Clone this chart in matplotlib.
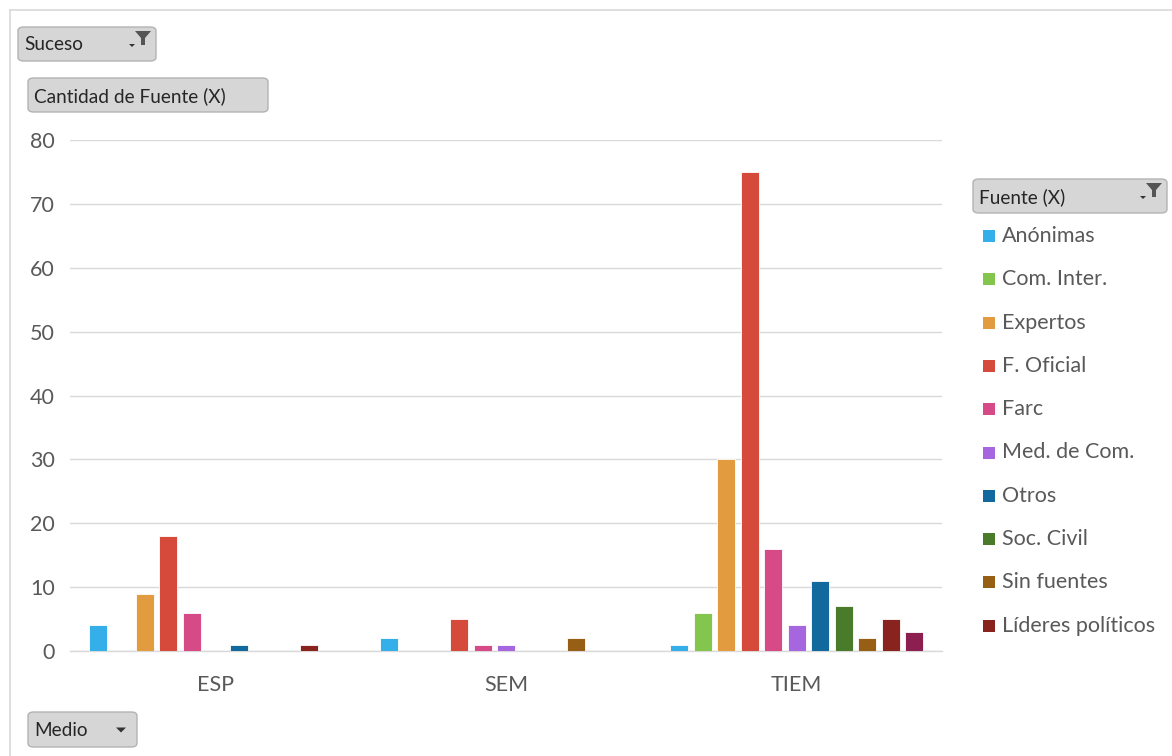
import numpy as np
import matplotlib
matplotlib.use("Agg")
import matplotlib.pyplot as plt
from matplotlib.patches import FancyBboxPatch, Rectangle, Polygon

# ================================
# Data
# ================================

MEDIOS = ["ESP", "SEM", "TIEM"]

FUENTES = [
    "Anónimas",
    "Com. Inter.",
    "Expertos",
    "F. Oficial",
    "Farc",
    "Med. de Com.",
    "Otros",
    "Soc. Civil",
    "Sin fuentes",
    "Líderes políticos",
    "(sin nombre)",  # 11th series, cut off from the legend
]

ANONIMAS = [4, 2, 1]
COM_INTER = [0, 0, 6]
EXPERTOS = [9, 0, 30]
F_OFICIAL = [18, 5, 75]
FARC = [6, 1, 16]
MED_COM = [0, 1, 4]
OTROS = [1, 0, 11]
SOC_CIVIL = [0, 0, 7]
SIN_FUENTES = [0, 2, 2]
LIDERES = [1, 0, 5]
EXTRA = [0, 0, 3]

COLORS = [
    "#35AFEA", "#84C54D", "#E29C3F", "#D64A3B", "#D74A88", "#A566E0",
    "#11699D", "#4A7B2A", "#975F16", "#89231D", "#8C1F4F",
]

SERIES = [ANONIMAS, COM_INTER, EXPERTOS, F_OFICIAL, FARC, MED_COM,
          OTROS, SOC_CIVIL, SIN_FUENTES, LIDERES, EXTRA]

W, H = 1172, 756
TXT = "#595959"
FONT = "Lato"

plt.rcParams["font.family"] = [FONT, "DejaVu Sans"]

fig = plt.figure(figsize=(W / 100, H / 100), dpi=100)
fig.patch.set_facecolor("white")

# plot area in pixels: x 70..942, y 140..651
ax = fig.add_axes([70 / W, (H - 651) / H, (942 - 70) / W, (651 - 140) / H])

x = np.arange(len(MEDIOS))
step = 0.0808
width = 0.062
n = len(SERIES)
for i, (vals, col) in enumerate(zip(SERIES, COLORS)):
    off = (i - (n - 1) / 2) * step
    heights = [v if v > 0 else np.nan for v in vals]
    ax.bar(x + off, heights, width=width, color=col, edgecolor="white",
           linewidth=0.6, zorder=3)

ax.set_xlim(-0.5, len(MEDIOS) - 0.5)
ax.set_ylim(0, 80)
ax.set_yticks(range(0, 81, 10))
ax.set_xticks(x)
ax.set_xticklabels(MEDIOS)
ax.yaxis.grid(True, color="#D9D9D9", linewidth=1.0, zorder=0)
for s in ["top", "right", "left"]:
    ax.spines[s].set_visible(False)
ax.spines["bottom"].set_color("#D9D9D9")
ax.spines["bottom"].set_linewidth(1.0)
ax.tick_params(axis="both", length=0, labelcolor=TXT, labelsize=15.5)
ax.tick_params(axis="y", pad=11)
ax.tick_params(axis="x", pad=17)

# ---- outer border of the chart (partly cropped) ----
fig.add_artist(plt.Line2D([10 / W, 10 / W], [0, (H - 10) / H],
                          transform=fig.transFigure, color="#D9D9D9", lw=1.2))
fig.add_artist(plt.Line2D([10 / W, 1], [(H - 10) / H, (H - 10) / H],
                          transform=fig.transFigure, color="#D9D9D9", lw=1.2))


def px(xp, yp):
    return xp / W, (H - yp) / H


def button(x0, y0, x1, y1, label, icon=None):
    bx, by = px(x0, y1)
    box = FancyBboxPatch((bx, by), (x1 - x0) / W, (y1 - y0) / H,
                         boxstyle="round,pad=0,rounding_size=0.005",
                         transform=fig.transFigure, facecolor="#D6D6D6",
                         edgecolor="#B3B3B3", linewidth=1.0)
    fig.add_artist(box)
    tx, ty = px(x0 + 6, (y0 + y1) / 2 + 1)
    fig.text(tx, ty, label, ha="left", va="center", fontsize=13.7,
             color="#262626")
    if icon == "filter":
        fx = x1 - 13
        pts = [px(fx - 8, y0 + 4), px(fx + 8, y0 + 4), px(fx + 2, y0 + 11),
               px(fx + 2, y0 + 18), px(fx - 2, y0 + 18), px(fx - 2, y0 + 11)]
        fig.add_artist(Polygon(pts, closed=True, transform=fig.transFigure,
                               facecolor="#555555", edgecolor="none"))
        tri = [px(fx - 14, y0 + 17), px(fx - 8, y0 + 17), px(fx - 11, y0 + 20)]
        fig.add_artist(Polygon(tri, closed=True, transform=fig.transFigure,
                               facecolor="#333333", edgecolor="none"))
    elif icon == "down":
        cx, cy = x1 - 16, (y0 + y1) / 2
        tri = [px(cx - 5, cy - 2), px(cx + 5, cy - 2), px(cx, cy + 3)]
        fig.add_artist(Polygon(tri, closed=True, transform=fig.transFigure,
                               facecolor="#333333", edgecolor="none"))


button(18, 27, 156, 61, "Suceso", icon="filter")
button(28, 78, 268, 112, "Cantidad de Fuente (X)")
button(973, 179, 1167, 213, "Fuente (X)", icon="filter")
button(28, 712, 137, 747, "Medio", icon="down")

# ---- legend (only the first ten series fit) ----
for i, (name, col) in enumerate(zip(FUENTES[:10], COLORS[:10])):
    yc = 236 + i * 43.3
    rx, ry = px(983, yc + 6)
    fig.add_artist(Rectangle((rx, ry), 12 / W, 12 / H, transform=fig.transFigure,
                             facecolor=col, edgecolor="none"))
    lx, ly = px(1002, yc)
    fig.text(lx, ly, name, ha="left", va="center", fontsize=15.5, color=TXT)

fig.savefig("out.png", dpi=100, facecolor="white")
